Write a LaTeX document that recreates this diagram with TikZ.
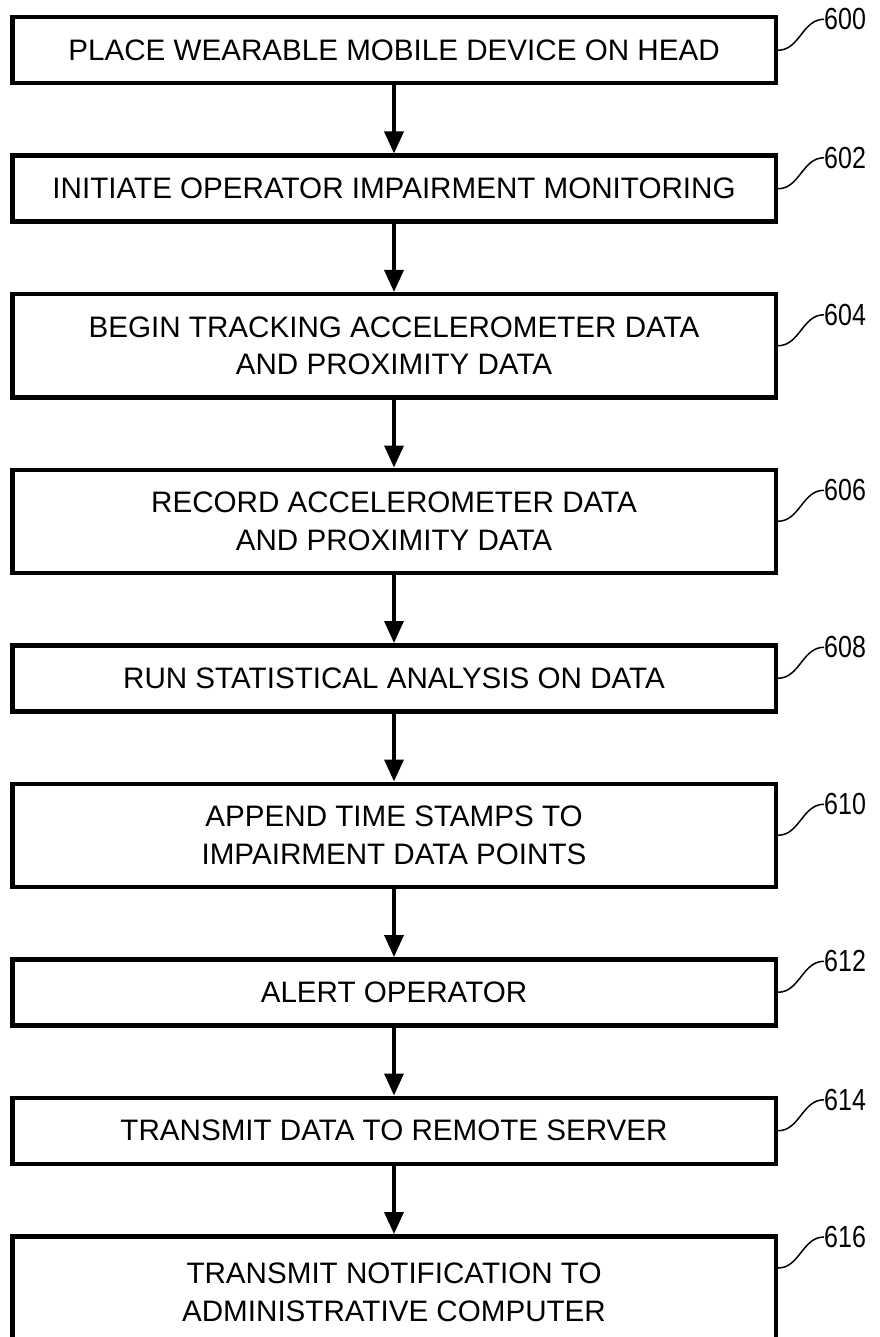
\documentclass[tikz,border=0pt]{standalone}
\usepackage{fontspec}
\setmainfont{Liberation Sans}
\newfontfamily\reffont[FakeStretch=0.82]{Liberation Sans}
\usetikzlibrary{positioning,arrows.meta}
\tikzset{
	stepbox/.style={%
		draw, line width=4.5pt,
		minimum width=763.5pt,
		minimum height=#1,
		align=center, inner sep=0pt,
		font=\fontsize{29.6}{37.5}\selectfont
	},
	stepbox/.default=66pt,
	reflabel/.style={anchor=west, inner sep=0pt,
		font=\reffont\fontsize{30.5}{30.5}\selectfont},
	leader/.style={line width=1.5pt},
	flow/.style={->, line width=3.5pt},
	>={Triangle[length=22pt,width=19pt]}
}
\begin{document}
\begin{tikzpicture}[x=1pt,y=1pt,node distance=68pt]
	\useasboundingbox (0,0) rectangle (879,-1337);

	% steps of the flow
	\node[stepbox] (s600) at (394,-50.25) {PLACE WEARABLE MOBILE DEVICE ON HEAD};
	\node[stepbox, below=of s600] (s602) {INITIATE OPERATOR IMPAIRMENT MONITORING};
	\node[stepbox=103pt, below=of s602] (s604) {BEGIN TRACKING ACCELEROMETER DATA\\AND PROXIMITY DATA};
	\node[stepbox=103pt, below=of s604] (s606) {RECORD ACCELEROMETER DATA\\AND PROXIMITY DATA};
	\node[stepbox, below=of s606] (s608) {RUN STATISTICAL ANALYSIS ON DATA};
	\node[stepbox=103pt, below=of s608] (s610) {APPEND TIME STAMPS TO\\IMPAIRMENT DATA POINTS};
	\node[stepbox, below=of s610] (s612) {ALERT OPERATOR};
	\node[stepbox, below=of s612] (s614) {TRANSMIT DATA TO REMOTE SERVER};
	% last box runs off the bottom of the sheet
	\node[stepbox=112pt, below=of s614] (s616) {TRANSMIT NOTIFICATION TO\\ADMINISTRATIVE COMPUTER};

	% arrows between steps
	\foreach \a/\b in {600/602,602/604,604/606,606/608,608/610,610/612,612/614,614/616}
		\draw[flow] (s\a.south) -- (s\b.north);

	% reference numerals
	\foreach \n in {600,602,...,614}{
		\node[reflabel] (l\n) at ([shift={(46pt,31pt)}]s\n.east) {\n};
		\draw[leader] (s\n.east) to[out=0,in=180] (l\n.west);
	}
	\node[reflabel] (l616) at ([shift={(46pt,31pt)}]s616.north east |- 0,-1268) {616};
	\coordinate (e616) at (s616.east |- 0,-1268);
	\draw[leader] (e616) to[out=0,in=180] (l616.west);
\end{tikzpicture}
\end{document}
